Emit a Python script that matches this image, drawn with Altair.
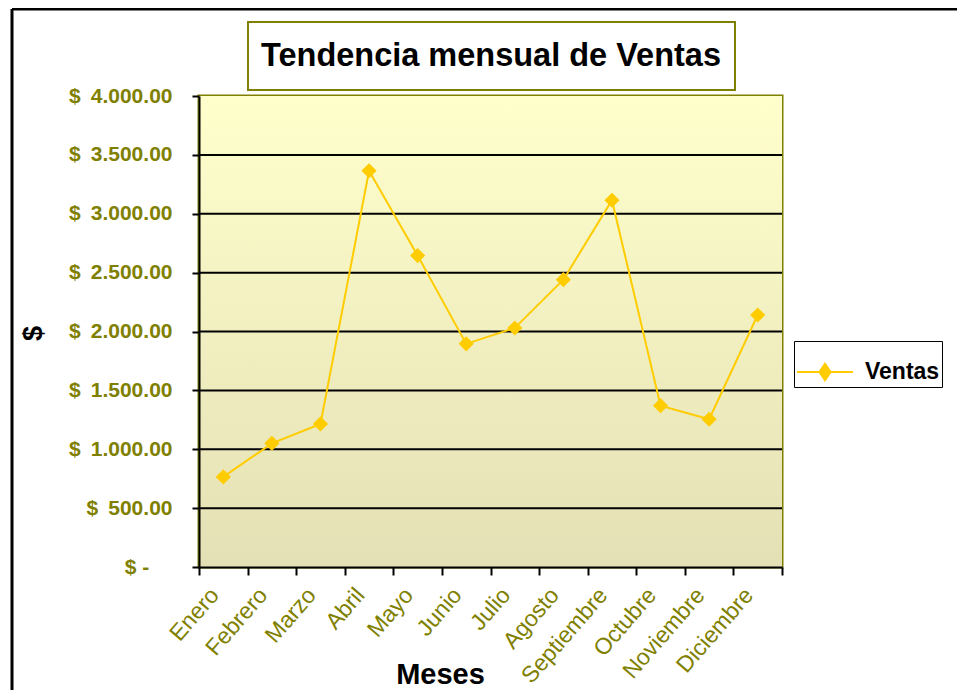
import altair as alt
import pandas as pd

meses = ["Enero", "Febrero", "Marzo", "Abril", "Mayo", "Junio", "Julio",
         "Agosto", "Septiembre", "Octubre", "Noviembre", "Diciembre"]
ventas = [765, 1050, 1215, 3365, 2645, 1895, 2030, 2440, 3115, 1370, 1255, 2140]
serie = "Ventas"
y_ticks = [0, 500, 1000, 1500, 2000, 2500, 3000, 3500, 4000]
grid_vals = [500, 1000, 1500, 2000, 2500, 3000, 3500]
titulo = "Tendencia mensual de Ventas"

W, H = 583, 471
GOLD = "#FFCC00"
OLIVE = "#808000"
FONT = "Liberation Sans"

df = pd.DataFrame({"Mes": meses, "Ventas": ventas, "Serie": [serie] * len(meses)})
grid_df = pd.DataFrame({"Ventas": grid_vals})
one = pd.DataFrame({"a": [0]})

x_enc = alt.X(
    "Mes:N", sort=meses,
    scale=alt.Scale(type="band", paddingInner=0, paddingOuter=0),
    axis=alt.Axis(
        title="Meses", labelAngle=-49, labelFontSize=23, labelColor=OLIVE,
        labelFont=FONT, labelPadding=16, labelOffset=-9, tickBand="extent", tickSize=8,
        tickColor="black", tickWidth=2, domainColor="black", domainWidth=2,
        grid=False, zindex=1,
        titleFont=FONT, titleFontSize=29, titleFontWeight="bold", titleColor="black",
        titleX=241, titleY=116, titleBaseline="alphabetic", titleAlign="center",
    ),
)
y_scale = alt.Scale(domain=[0, 4000], nice=False)
y_axis = alt.Axis(
    title="$", values=y_ticks, grid=False, zindex=1,
    labelExpr="datum.value == 0 ? '$ -\u2007\u2007\u200b' : '$ \u2009' + replace(format(datum.value, ',.2f'), ',', '.')",
    labelFont=FONT, labelFontSize=21, labelFontWeight="bold", labelColor=OLIVE,
    labelPadding=20, tickSize=7, tickColor="black", tickWidth=2,
    domainColor="black", domainWidth=2,
    titleFont=FONT, titleFontSize=27, titleFontWeight="bold", titleColor="black",
    titleX=-152, titleY=237,
)

bg = alt.Chart(one).mark_rect(
    fill={"gradient": "linear", "x1": 0, "y1": 0, "x2": 0, "y2": 1,
          "stops": [{"offset": 0, "color": "#FFFFCC"}, {"offset": 1, "color": "#E4E0B5"}]}
).encode(x=alt.value(0), x2=alt.value(W), y=alt.value(0), y2=alt.value(H))

grid = alt.Chart(grid_df).mark_rule(color="black", strokeWidth=2).encode(
    y=alt.Y("Ventas:Q", scale=y_scale, axis=y_axis)
)

line = alt.Chart(df).mark_line(
    strokeWidth=2,
    point=alt.OverlayMarkDef(shape="diamond", filled=True, size=230, opacity=1),
).encode(
    x=x_enc, y=alt.Y("Ventas:Q", scale=y_scale, axis=y_axis),
    color=alt.Color(
        "Serie:N", scale=alt.Scale(domain=[serie], range=[GOLD]),
        legend=alt.Legend(
            title=None, orient="none", legendX=595, legendY=245,
            strokeColor="black", fillColor="white", padding=2,
            labelFont=FONT, labelFontSize=23, labelFontWeight="bold", labelColor="black",
            labelOffset=11,
            symbolType="M-1,0L1,0M0,-0.29L0.2,0L0,0.29L-0.2,0Z",
            symbolSize=3136, symbolStrokeWidth=2,
            symbolFillColor=GOLD, symbolStrokeColor=GOLD,
        ),
    ),
)

frame_top = alt.Chart(one).mark_rule(color="black", strokeWidth=3).encode(
    x=alt.value(-187), x2=alt.value(775), y=alt.value(-87)
)
frame_left = alt.Chart(one).mark_rule(color="black", strokeWidth=3).encode(
    x=alt.value(-187), y=alt.value(-87), y2=alt.value(610)
)
title_box = alt.Chart(one).mark_rect(fill="white", stroke=OLIVE, strokeWidth=2).encode(
    x=alt.value(49), x2=alt.value(536), y=alt.value(-74), y2=alt.value(-6)
)
title_txt = alt.Chart(one).mark_text(
    text=titulo, font=FONT, fontSize=32.5, fontWeight="bold", color="black",
    align="center", baseline="alphabetic",
).encode(x=alt.value(292), y=alt.value(-30))

chart = alt.layer(
    bg, grid, line, frame_top, frame_left, title_box, title_txt
).properties(
    width=W, height=H,
    autosize=alt.AutoSizeParams(type="none"),
    padding={"left": 191, "top": 88, "right": 175, "bottom": 123},
    background="white",
).configure_view(
    stroke=OLIVE, strokeWidth=3
)

chart.save("out.html", embed_options={"renderer": "svg", "actions": False})
